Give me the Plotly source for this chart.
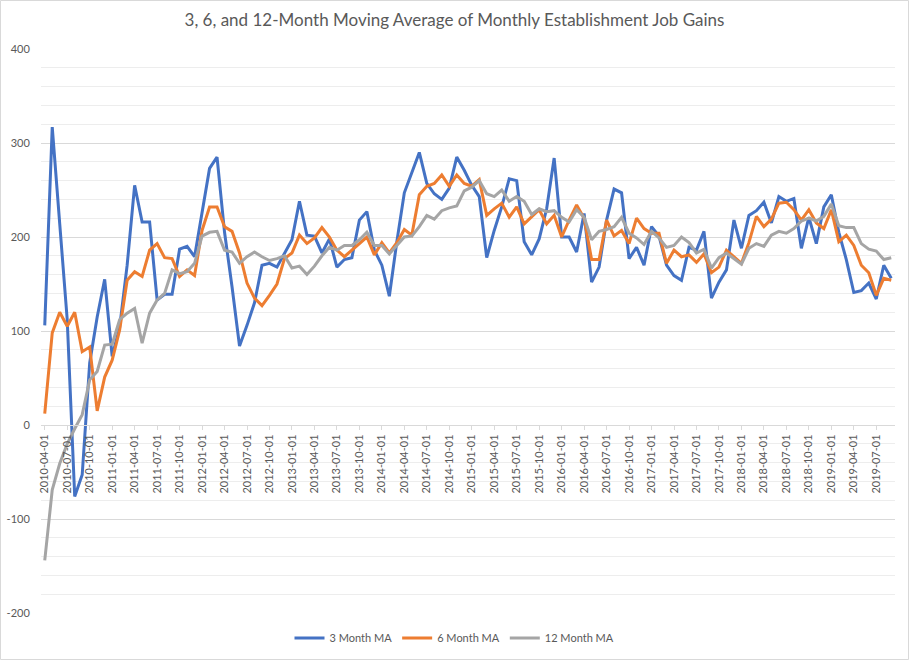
import plotly.graph_objects as go

# Categories: monthly dates 2010-04-01 .. 2019-09-01
months = [
    "2010-04-01","2010-05-01","2010-06-01","2010-07-01","2010-08-01","2010-09-01","2010-10-01","2010-11-01","2010-12-01",
    "2011-01-01","2011-02-01","2011-03-01","2011-04-01","2011-05-01","2011-06-01","2011-07-01","2011-08-01","2011-09-01","2011-10-01","2011-11-01","2011-12-01",
    "2012-01-01","2012-02-01","2012-03-01","2012-04-01","2012-05-01","2012-06-01","2012-07-01","2012-08-01","2012-09-01","2012-10-01","2012-11-01","2012-12-01",
    "2013-01-01","2013-02-01","2013-03-01","2013-04-01","2013-05-01","2013-06-01","2013-07-01","2013-08-01","2013-09-01","2013-10-01","2013-11-01","2013-12-01",
    "2014-01-01","2014-02-01","2014-03-01","2014-04-01","2014-05-01","2014-06-01","2014-07-01","2014-08-01","2014-09-01","2014-10-01","2014-11-01","2014-12-01",
    "2015-01-01","2015-02-01","2015-03-01","2015-04-01","2015-05-01","2015-06-01","2015-07-01","2015-08-01","2015-09-01","2015-10-01","2015-11-01","2015-12-01",
    "2016-01-01","2016-02-01","2016-03-01","2016-04-01","2016-05-01","2016-06-01","2016-07-01","2016-08-01","2016-09-01","2016-10-01","2016-11-01","2016-12-01",
    "2017-01-01","2017-02-01","2017-03-01","2017-04-01","2017-05-01","2017-06-01","2017-07-01","2017-08-01","2017-09-01","2017-10-01","2017-11-01","2017-12-01",
    "2018-01-01","2018-02-01","2018-03-01","2018-04-01","2018-05-01","2018-06-01","2018-07-01","2018-08-01","2018-09-01","2018-10-01","2018-11-01","2018-12-01",
    "2019-01-01","2019-02-01","2019-03-01","2019-04-01","2019-05-01","2019-06-01","2019-07-01","2019-08-01","2019-09-01",
]

ma3 = [
    106, 317, 214, 112, -76, -53, 66, 115, 155,
    73, 104, 170, 255, 216, 216, 133, 139, 139, 187, 190, 179,
    226, 273, 285, 205, 147, 84, 106, 130, 170, 172, 168, 183,
    197, 238, 202, 201, 183, 198, 168, 176, 178, 218, 227, 186,
    170, 137, 195, 247, 268, 290, 257, 246, 240, 252, 285, 271,
    255, 243, 178, 207, 232, 262, 260, 195, 181, 198, 230, 284,
    200, 200, 184, 225, 152, 168, 218, 251, 247, 177, 189, 170,
    211, 201, 170, 159, 154, 189, 186, 206, 135, 152, 165, 218,
    188, 223, 228, 237, 215, 243, 238, 241, 188, 221, 193, 232,
    245, 205, 176, 141, 143, 151, 134, 170, 156,
]

ma6 = [
    12, 98, 120, 105, 120, 78, 83, 15, 51,
    69, 101, 154, 163, 158, 186, 193, 178, 177, 158, 165, 159,
    207, 232, 232, 211, 206, 183, 151, 135, 127, 138, 150, 177,
    183, 202, 193, 199, 210, 200, 186, 179, 186, 193, 200, 181,
    194, 183, 194, 208, 202, 245, 254, 257, 266, 254, 266, 257,
    254, 261, 223, 230, 236, 221, 232, 214, 221, 229, 214, 223,
    200, 218, 234, 220, 176, 176, 218, 201, 207, 193, 220, 209,
    204, 204, 172, 186, 179, 181, 173, 182, 162, 168, 186, 179,
    172, 194, 222, 211, 219, 236, 237, 229, 218, 229, 215, 209,
    229, 195, 202, 191, 170, 162, 138, 156, 154,
]

ma12 = [
    -144, -69, -41, -20, -4, 11, 48, 57, 85,
    86, 112, 119, 124, 87, 119, 133, 140, 165, 161, 163, 172,
    201, 205, 206, 186, 184, 172, 179, 184, 179, 175, 177, 180,
    167, 169, 160, 169, 180, 189, 186, 191, 191, 197, 205, 191,
    191, 182, 191, 200, 201, 211, 223, 219, 228, 231, 233, 249,
    253, 260, 246, 243, 250, 238, 243, 238, 224, 230, 227, 228,
    221, 216, 229, 221, 197, 206, 208, 211, 221, 204, 199, 192,
    206, 199, 189, 191, 200, 194, 183, 187, 167, 178, 183, 177,
    171, 188, 193, 190, 202, 206, 204, 209, 217, 220, 217, 222,
    235, 212, 210, 210, 193, 187, 185, 176, 178,
]

x_ticks = months[::3]
y_ticks = [-200, -100, 0, 100, 200, 300, 400]
y_tick_text = ["-200", "-100", "0", "100", "200", "300", "400"]
y_minor = [v for v in range(-200, 401, 20) if v % 100 != 0]

series = [
    ("3 Month MA", ma3, "#4472C4"),
    ("6 Month MA", ma6, "#ED7D31"),
    ("12 Month MA", ma12, "#A5A5A5"),
]

FONT = "Lato"
TXT = "#595959"
W, H = 909, 660
ML, MR, MT, MB = 41, 14, 49, 47

fig = go.Figure()
for name, vals, color in series:
    fig.add_trace(go.Scatter(
        x=months, y=vals, name=name, mode="lines",
        line=dict(color=color, width=3),
    ))

fig.update_layout(
    width=W, height=H, autosize=False,
    margin=dict(l=ML, r=MR, t=MT, b=MB, autoexpand=False),
    paper_bgcolor="white", plot_bgcolor="white",
    title=dict(
        text="3, 6, and 12-Month Moving Average of Monthly Establishment Job Gains",
        x=0.5, xref="container", xanchor="center",
        y=1 - 20 / H, yref="container", yanchor="middle",
        font=dict(family=FONT, size=17, color=TXT),
    ),
    legend=dict(
        orientation="h", x=0.5, xref="container", xanchor="center",
        y=(H - 638) / H, yref="container", yanchor="middle",
        font=dict(family=FONT, size=11, color=TXT),
        bgcolor="rgba(0,0,0,0)",
    ),
    showlegend=True,
)

fig.update_xaxes(
    type="category", categoryorder="array", categoryarray=months,
    range=[-0.5, len(months) - 0.5],
    anchor="free", position=(0 - y_ticks[0]) / (y_ticks[-1] - y_ticks[0]),
    showgrid=False, zeroline=False,
    showline=True, linecolor="#D9D9D9", linewidth=1,
    tickmode="array", tickvals=x_ticks, ticktext=x_ticks,
    tickangle=-90, ticks="outside", ticklen=4, tickcolor="#D9D9D9",
    tickfont=dict(family=FONT, size=11, color=TXT),
)

fig.update_yaxes(
    range=[y_ticks[0], y_ticks[-1]],
    tickmode="array", tickvals=y_ticks, ticktext=y_tick_text,
    showgrid=True, gridcolor="#D9D9D9", gridwidth=1,
    zeroline=False, showline=False,
    ticks="outside", ticklen=8, tickcolor="rgba(0,0,0,0)",
    tickfont=dict(family=FONT, size=11, color=TXT),
    minor=dict(tickmode="array", tickvals=y_minor, showgrid=True,
               gridcolor="#EDEDED", gridwidth=1, ticks=""),
)

# Chart-area border
pw, ph = W - ML - MR, H - MT - MB
fig.add_shape(
    type="rect", xref="paper", yref="paper",
    x0=(0.5 - ML) / pw, x1=(W - 0.5 - ML) / pw,
    y0=(H - MB - (H - 0.5)) / ph, y1=(H - MB - 0.5) / ph,
    line=dict(color="#D9D9D9", width=1), fillcolor="rgba(0,0,0,0)", layer="below",
)

fig.write_html(
    "out.html",
    config={"displayModeBar": False},
    post_script="document.body.style.margin='0px';document.body.style.overflow='hidden';",
)
